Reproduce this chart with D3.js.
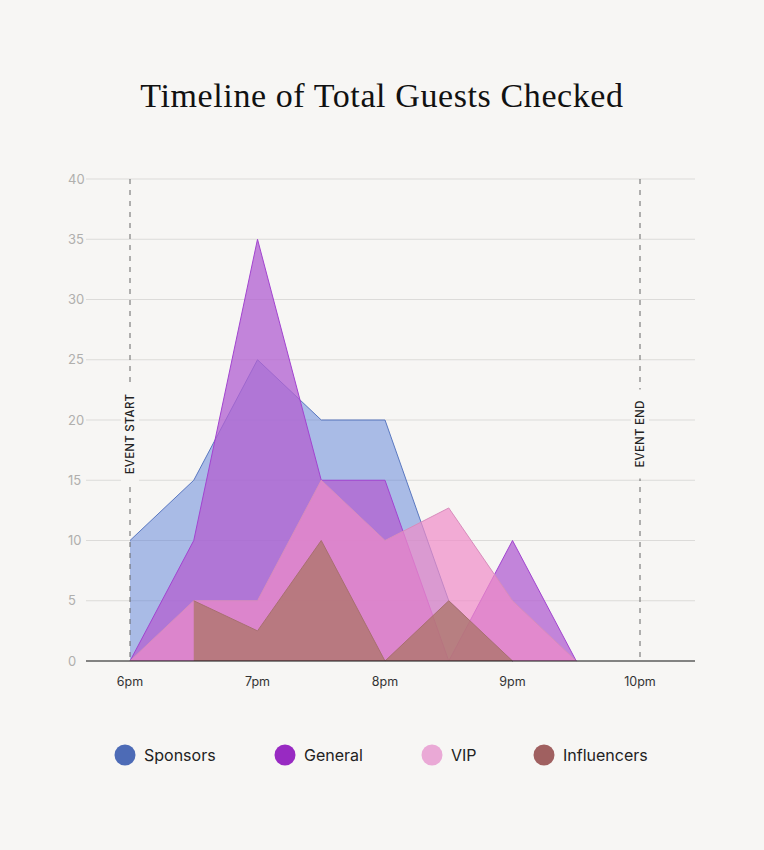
<!DOCTYPE html>
<meta charset="utf-8">
<script src="https://d3js.org/d3.v7.min.js"></script>
<style>
  body { margin: 0; background: #f7f6f4; }
  text { font-family: Inter, "Noto Sans", sans-serif; }
</style>
<div id="chart"></div>
<script>
// data (half-hour check-in buckets)
var times = [18, 18.5, 19, 19.5, 20, 20.5, 21, 21.5];
var sponsors = [10, 15, 25, 20, 20, 5, 0, null];
var general = [0, 10, 35, 15, 15, 0, 10, 0];
var vip = [0, 5, 5, 15, 10, 12.7, 5, 0];
var influencers = [null, 5, 2.5, 10, 0, 5, 0, null];

var tickHours = [18, 19, 20, 21, 22];
var tickLabels = ["6pm", "7pm", "8pm", "9pm", "10pm"];
var yTicks = [0, 5, 10, 15, 20, 25, 30, 35, 40];

var seriesNames = ["Sponsors", "General", "VIP", "Influencers"];
var seriesValues = [sponsors, general, vip, influencers];
var fills = ["#5b80d8", "#b261d1", "#f08cc8", "#a87460"];
var fillOpacity = [0.5, 0.77, 0.7, 0.7];
var strokes = ["#5a78c0", "#a244d0", "#d88cbc", "#a87070"];
var legendColors = ["#4d6bb6", "#982ac2", "#eaa9d6", "#a06060"];

var W = 764, H = 850;

var svg = d3.select("#chart").append("svg")
  .attr("width", W)
  .attr("height", H);

svg.append("rect").attr("width", W).attr("height", H).attr("fill", "#f7f6f4");

// title
svg.append("text")
  .attr("x", W / 2)
  .attr("y", 107)
  .attr("text-anchor", "middle")
  .style("font-family", "'Liberation Serif', 'DejaVu Serif', serif")
  .style("font-size", "34px")
  .style("letter-spacing", "0.6px")
  .attr("fill", "#111")
  .text("Timeline of Total Guests Checked");

var x = d3.scaleLinear().domain([18, 22]).range([130, 640]);
var y = d3.scaleLinear().domain([0, 40]).range([661, 179]);

// grid
svg.append("g").selectAll("line")
  .data(yTicks.slice(1))
  .enter().append("line")
    .attr("x1", 86).attr("x2", 695)
    .attr("y1", function(d) { return y(d); })
    .attr("y2", function(d) { return y(d); })
    .attr("stroke", "#dcdbd9")
    .attr("stroke-width", 1);

svg.append("g").selectAll("text")
  .data(yTicks)
  .enter().append("text")
    .attr("x", 68)
    .attr("y", function(d) { return y(d) + 4.5; })
    .style("font-size", "13px")
    .attr("fill", "#b0afad")
    .text(function(d) { return d; });

// areas
seriesValues.forEach(function(vals, i) {
  var pts = times.map(function(t, j) { return {t: t, v: vals[j]}; });
  var area = d3.area()
    .defined(function(d) { return d.v != null; })
    .x(function(d) { return x(d.t); })
    .y0(y(0))
    .y1(function(d) { return y(d.v); });
  var line = d3.line()
    .defined(function(d) { return d.v != null; })
    .x(function(d) { return x(d.t); })
    .y(function(d) { return y(d.v); });
  svg.append("path")
    .datum(pts)
    .attr("d", area)
    .attr("fill", fills[i])
    .attr("fill-opacity", fillOpacity[i]);
  svg.append("path")
    .datum(pts)
    .attr("d", line)
    .attr("fill", "none")
    .attr("stroke", strokes[i])
    .attr("stroke-width", 1);
});

// baseline
svg.append("line")
  .attr("x1", 86).attr("x2", 695)
  .attr("y1", y(0)).attr("y2", y(0))
  .attr("stroke", "#111")
  .attr("stroke-width", 1.2);

// x labels
svg.append("g").selectAll("text")
  .data(tickHours)
  .enter().append("text")
    .attr("x", function(d) { return x(d); })
    .attr("y", 686)
    .attr("text-anchor", "middle")
    .style("font-size", "12.5px")
    .attr("fill", "#333")
    .text(function(d, i) { return tickLabels[i]; });

// event markers
var events = [{t: 18, label: "EVENT START"}, {t: 22, label: "EVENT END"}];
events.forEach(function(e) {
  var ex = x(e.t);
  svg.append("line")
    .attr("x1", ex).attr("x2", ex)
    .attr("y1", y(40)).attr("y2", y(0))
    .attr("stroke", "#666")
    .attr("stroke-width", 1)
    .attr("stroke-dasharray", "5,6");
  var g = svg.append("g")
    .attr("transform", "translate(" + ex + ",434) rotate(-90)");
  var t = g.append("text")
    .attr("x", 0)
    .attr("y", 4)
    .attr("text-anchor", "middle")
    .style("font-size", "11.5px")
    .style("font-weight", 500)
    .style("letter-spacing", "0.2px")
    .attr("fill", "#222")
    .text(e.label);
  var bb = t.node().getBBox();
  g.insert("rect", "text")
    .attr("x", bb.x - 11)
    .attr("y", -9)
    .attr("width", bb.width + 22)
    .attr("height", 18)
    .attr("fill", "#f7f6f4");
});

// legend
var legendX = [125, 285, 432, 544];
seriesNames.forEach(function(name, i) {
  svg.append("circle")
    .attr("cx", legendX[i])
    .attr("cy", 755)
    .attr("r", 10.5)
    .attr("fill", legendColors[i]);
  svg.append("text")
    .attr("x", legendX[i] + 19)
    .attr("y", 761)
    .style("font-size", "16px")
    .attr("fill", "#222")
    .text(name);
});
</script>
